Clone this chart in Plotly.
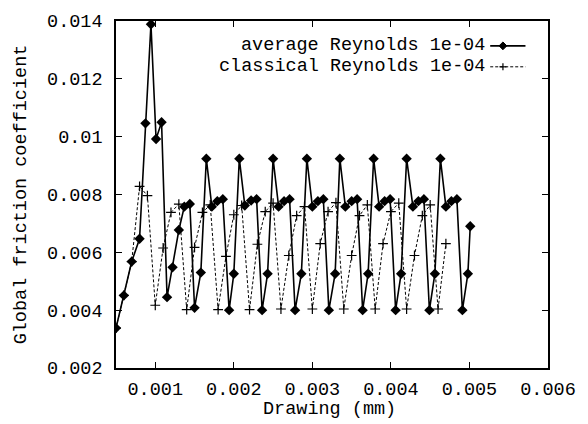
import plotly.graph_objects as go

avg_x = [0.0005, 0.0006, 0.0007, 0.0008, 0.000875, 0.000945, 0.00101, 0.00108, 0.00115, 0.00122, 0.0013, 0.00137, 0.00144,
         0.0015, 0.00158, 0.00165, 0.00172, 0.00179, 0.00186,
         0.00194, 0.0020, 0.00207, 0.00214, 0.00222, 0.00229,
         0.00236, 0.00243, 0.0025, 0.00257, 0.00264, 0.00271,
         0.00278, 0.00286, 0.00293, 0.0030, 0.00307, 0.00314,
         0.00321, 0.00329, 0.00335, 0.00342, 0.0035, 0.00357,
         0.00364, 0.00371, 0.00378, 0.00385, 0.00392, 0.00399,
         0.00406, 0.00413, 0.0042, 0.00428, 0.00435, 0.00442,
         0.00449, 0.00456, 0.00463, 0.0047, 0.00477, 0.00484,
         0.00491, 0.00498, 0.00501]
avg_y = [0.00338, 0.00451, 0.00568, 0.00647, 0.01046, 0.01389, 0.00992, 0.0105, 0.00445, 0.00548, 0.00677, 0.00758, 0.00767,
         0.00408, 0.0053, 0.00924, 0.00758, 0.00777, 0.00784,
         0.0040, 0.00526, 0.00924, 0.00762, 0.00779, 0.00784,
         0.0040, 0.00526, 0.00924, 0.00758, 0.00777, 0.00784,
         0.0040, 0.00526, 0.00924, 0.00758, 0.00777, 0.00784,
         0.0040, 0.00526, 0.00924, 0.00758, 0.00777, 0.00784,
         0.0040, 0.00526, 0.00924, 0.00758, 0.00777, 0.00784,
         0.0040, 0.00526, 0.00924, 0.00758, 0.00777, 0.00784,
         0.0040, 0.00526, 0.00924, 0.00758, 0.00777, 0.00784,
         0.0040, 0.00526, 0.0069]

cls_x = [0.0005, 0.0006, 0.0007, 0.0008, 0.0009, 0.0010, 0.0011, 0.0012, 0.0013, 0.0014, 0.0015, 0.0016, 0.0017,
         0.0018, 0.0019, 0.0020, 0.0021, 0.0022, 0.0023, 0.0024, 0.0025, 0.0026, 0.0027, 0.0028, 0.0029,
         0.0030, 0.0031, 0.0032, 0.0033, 0.0034, 0.0035, 0.0036, 0.0037, 0.0038, 0.0039, 0.0040, 0.0041,
         0.0042, 0.0043, 0.0044, 0.0045, 0.0046, 0.0047]
cls_y = [0.00338, 0.00451, 0.00568, 0.00828, 0.00796,
         0.00417, 0.00615, 0.00738, 0.00767,
         0.00402, 0.00617, 0.00738, 0.00764,
         0.00402, 0.00586, 0.0073, 0.00762,
         0.00402, 0.00628, 0.00741, 0.0077,
         0.00404, 0.00589, 0.00727, 0.00758,
         0.00404, 0.0063, 0.00741, 0.00772,
         0.00404, 0.00589, 0.00727, 0.00764,
         0.00404, 0.0063, 0.00741, 0.0077,
         0.00404, 0.00589, 0.00727, 0.00764,
         0.00404, 0.0063]

x_ticks = [0.001, 0.002, 0.003, 0.004, 0.005, 0.006]
x_labels = ["0.001", "0.002", "0.003", "0.004", "0.005", "0.006"]
y_ticks = [0.002, 0.004, 0.006, 0.008, 0.01, 0.012, 0.014]
y_labels = ["0.002", "0.004", "0.006", "0.008", "0.01", "0.012", "0.014"]

series_names = ["average Reynolds 1e-04", "classical Reynolds 1e-04"]
x_title = "Drawing (mm)"
y_title = "Global friction coefficient"

FONT = "Liberation Mono, Courier New, monospace"
FS = 18.5

L, R, T, B = 116, 31, 12, 56
PW = 588 - L - R
PH = 424 - T - B

fig = go.Figure()
fig.add_trace(go.Scatter(
    x=cls_x, y=cls_y, mode="lines+markers", name=series_names[1],
    line=dict(color="black", width=1, dash="3px,2px"),
    marker=dict(symbol="cross-thin", size=7, line=dict(color="black", width=1.2)),
    showlegend=False))
fig.add_trace(go.Scatter(
    x=avg_x, y=avg_y, mode="lines+markers", name=series_names[0],
    line=dict(color="black", width=1.6),
    marker=dict(symbol="diamond", size=8, color="black"),
    showlegend=False))

def px(xp):
    return (xp - L) / PW

def py(yp):
    return (424 - B - yp) / PH

# legend (gnuplot style: text right-aligned, sample to the right)
rows = [py(37.5), py(59)]
shapes = []
annotations = []
for i, yy in enumerate(rows):
    annotations.append(dict(xref="paper", yref="paper", x=px(494), y=yy, xanchor="right", yanchor="middle",
                            borderpad=0,
                            text=series_names[i], showarrow=False, font=dict(family=FONT, size=FS, color="black")))
x0, x1, xm = px(498), px(534), px(511)
dy = 8 / PH
dx = 4 / PW
shapes.append(dict(type="line", xref="paper", yref="paper", x0=x0, x1=x1, y0=rows[0], y1=rows[0],
                   line=dict(color="black", width=1.6)))
shapes.append(dict(type="path", xref="paper", yref="paper",
                   path=f"M {xm-dx} {rows[0]} L {xm} {rows[0]+dy/2} L {xm+dx} {rows[0]} L {xm} {rows[0]-dy/2} Z",
                   fillcolor="black", line=dict(color="black", width=1)))
shapes.append(dict(type="line", xref="paper", yref="paper", x0=x0, x1=x1, y0=rows[1], y1=rows[1],
                   line=dict(color="black", width=1, dash="3px,2px")))
shapes.append(dict(type="line", xref="paper", yref="paper", x0=xm - dx * 0.9, x1=xm + dx * 0.9, y0=rows[1], y1=rows[1],
                   line=dict(color="black", width=1.2)))
shapes.append(dict(type="line", xref="paper", yref="paper", x0=xm, x1=xm, y0=rows[1] - dy * 0.45, y1=rows[1] + dy * 0.45,
                   line=dict(color="black", width=1.2)))

annotations.append(dict(xref="paper", yref="paper", x=px(334), y=py(411), xanchor="center", yanchor="middle",
                        borderpad=0,
                        text=x_title, showarrow=False, font=dict(family=FONT, size=FS, color="black")))

fig.update_layout(
    width=588, height=424,
    margin=dict(l=L, r=R, t=T, b=B),
    paper_bgcolor="white", plot_bgcolor="white",
    font=dict(family=FONT, size=FS, color="black"),
    shapes=shapes, annotations=annotations,
)
fig.update_xaxes(
    range=[0.0005, 0.006], tickvals=x_ticks, ticktext=x_labels,
    showgrid=False, zeroline=False, showline=True, linecolor="black", linewidth=1.5,
    mirror="ticks", ticks="inside", ticklen=6, tickcolor="black", tickwidth=1,
    ticklabelstandoff=3,
    tickfont=dict(family=FONT, size=FS),
)
fig.update_yaxes(
    range=[0.002, 0.014], tickvals=y_ticks, ticktext=y_labels,
    showgrid=False, zeroline=False, showline=True, linecolor="black", linewidth=1.5,
    mirror="ticks", ticks="inside", ticklen=6, tickcolor="black", tickwidth=1,
    ticklabelstandoff=8,
    title=dict(text=y_title, standoff=16, font=dict(family=FONT, size=FS)),
    tickfont=dict(family=FONT, size=FS),
)

fig.write_html("out.html")
